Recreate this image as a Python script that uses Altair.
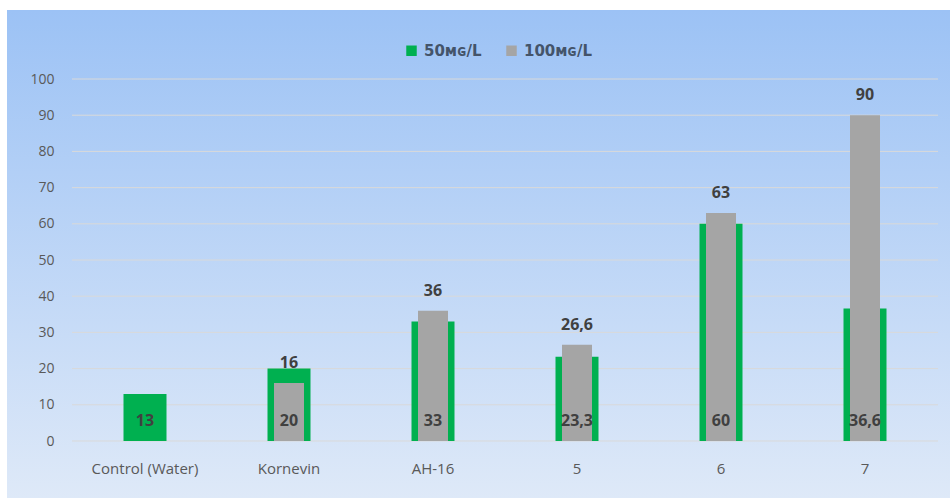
import altair as alt
import pandas as pd

categories = ["Control (Water)", "Kornevin", "AH-16", "5", "6", "7"]
s50_values = [13, 20, 33, 23.3, 60, 36.6]
s50_labels = ["13", "20", "33", "23,3", "60", "36,6"]
s100_values = [None, 16, 36, 26.6, 63, 90]
s100_labels = ["", "16", "36", "26,6", "63", "90"]
series_names = ["50ᴍɢ/L", "100ᴍɢ/L"]
y_ticks = [0, 10, 20, 30, 40, 50, 60, 70, 80, 90, 100]

rows = []
for c, v, l in zip(categories, s50_values, s50_labels):
    rows.append({"category": c, "value": v, "label": l, "series": series_names[0]})
for c, v, l in zip(categories, s100_values, s100_labels):
    if v is not None:
        rows.append({"category": c, "value": v, "label": l, "series": series_names[1]})
df = pd.DataFrame(rows)
grid_df = pd.DataFrame({"value": y_ticks})

W, H = 864, 362
PL, PT = 73, 79
FONT = "Open Sans"

x_enc = alt.X("category:N", sort=categories,
              scale=alt.Scale(paddingInner=0, paddingOuter=0),
              axis=alt.Axis(title=None, labelAngle=0, labelFont=FONT, labelFontSize=15,
                            labelColor="#595959", labelPadding=20, ticks=False,
                            domain=False, grid=False, zindex=1))
y_scale = alt.Scale(domain=[0, 100], nice=False)
y_enc = alt.Y("value:Q", scale=y_scale,
              axis=alt.Axis(title=None, values=y_ticks, labelFont=FONT, labelFontSize=14,
                            labelColor="#595959", labelPadding=19, ticks=False,
                            domain=False, grid=False, zindex=1))

color_scale = alt.Scale(domain=series_names, range=["#00B050", "#A5A5A5"])
color_enc = alt.Color("series:N", scale=color_scale, sort=series_names,
                      legend=alt.Legend(title=None, orient="none", legendX=331, legendY=-36,
                                        direction="horizontal", symbolType="square",
                                        symbolSize=110, symbolStrokeWidth=0,
                                        labelFont="DejaVu Sans", labelFontSize=15,
                                        labelFontWeight="bold", labelColor="#44546A",
                                        columnPadding=22, labelOffset=5))

grad = alt.Gradient(gradient="linear",
                    stops=[alt.GradientStop(color="#9CC2F5", offset=0),
                           alt.GradientStop(color="#DEE9F8", offset=1)],
                    x1=0, x2=0, y1=0, y2=1)
bg = alt.Chart(alt.Data(values=[{"a": 1}])).mark_rect(fill=grad).encode(
    x=alt.value(7 - PL), x2=alt.value(950 - PL),
    y=alt.value(10 - PT), y2=alt.value(498 - PT))

grid = alt.Chart(grid_df).mark_rule(color="#D9D9D9", strokeWidth=1).encode(
    y=y_enc, x=alt.value(-1), x2=alt.value(W + 1))

base = alt.Chart(df)
green = base.transform_filter(alt.datum.series == series_names[0]).mark_bar(size=43).encode(
    x=x_enc, y=y_enc, color=color_enc)
grey = base.transform_filter(alt.datum.series == series_names[1]).mark_bar(size=30).encode(
    x=x_enc, y=y_enc, color=color_enc)
grey_text = base.transform_filter(alt.datum.series == series_names[1]).mark_text(
    font=FONT, fontSize=16, fontWeight="bold", color="#404040", baseline="middle", dy=-20
).encode(x=x_enc, y=y_enc, text="label:N")
green_text = base.transform_filter(alt.datum.series == series_names[0]).mark_text(
    font=FONT, fontSize=16, fontWeight="bold", color="#404040", baseline="middle", dy=-20
).encode(x=x_enc, y=alt.value(H), text="label:N")

chart = alt.layer(bg, grid, green, grey, grey_text, green_text).properties(
    width=W, height=H,
    autosize=alt.AutoSizeParams(type="none"),
    padding={"left": PL, "top": PT, "right": 950 - PL - W, "bottom": 498 - PT - H},
    background="white",
).configure_view(stroke=None)

chart.save("out.html", embed_options={"renderer": "svg", "actions": False})
